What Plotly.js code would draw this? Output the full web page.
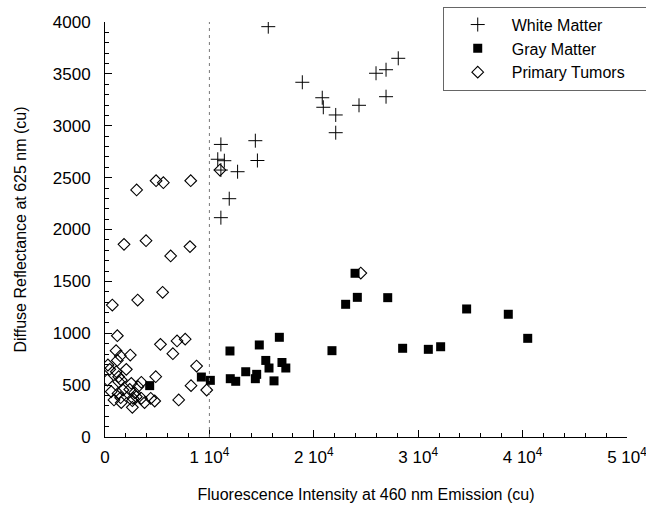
<!DOCTYPE html>
<html>
<head>
<meta charset="utf-8">
<script src="https://cdn.plot.ly/plotly-3.0.1.min.js"></script>
<style>html,body{margin:0;padding:0;background:#fff;}#chart{width:646px;height:506px;}</style>
</head>
<body>
<div id="chart"></div>
<script>
// White Matter
const whiteX = [15640,18900,20810,20910,22100,22100,24330,25960,26920,26920,28090,11100,14400,10800,11430,14600,11100,12700,11900,11100];
const whiteY = [3955,3419,3270,3178,3104,2933,3197,3506,3540,3280,3650,2820,2856,2677,2663,2665,2573,2557,2297,2114];
// Gray Matter
const grayX = [4280,9230,10090,11970,12000,12520,13480,14530,14400,14780,15400,15710,16190,16700,16950,17320,21740,23050,23950,24170,27080,28510,30970,32150,34640,38630,40490];
const grayY = [495,578,546,829,562,537,629,604,562,887,738,665,541,961,718,665,832,1279,1578,1346,1343,855,845,870,1234,1183,951];
// Primary Tumors
const tumorX = [3030,4890,5590,8210,11010,1820,3930,6290,8140,700,3130,5520,
  1180,5310,6900,7680,6500,1060,1470,1180,2420,8770,280,2040,1080,450,1310,1560,220,4860,1310,2520,3480,3160,2370,600,1250,1720,2840,3000,1500,3480,4380,4760,860,1560,2680,2620,3790,7060,2620,8240,9740,24500];
const tumorY = [2381,2470,2451,2470,2573,1857,1892,1745,1835,1272,1320,1395,
  976,893,926,943,803,832,781,738,790,684,694,652,629,652,581,549,549,581,533,517,527,485,459,437,420,453,427,388,379,373,373,347,357,331,373,350,331,357,286,495,453,1580];

const thresholdX = 10000;
const xTickVals = [0,10000,20000,30000,40000,50000];
const xTickText = ['0','1 10<sup>4</sup>','2 10<sup>4</sup>','3 10<sup>4</sup>','4 10<sup>4</sup>','5 10<sup>4</sup>'];
const yTickVals = [0,500,1000,1500,2000,2500,3000,3500,4000];

const font = 'Liberation Sans, Arial, sans-serif';
const pad = '\u00a0\u00a0\u00a0\u00a0\u00a0';

const traces = [
  {x: whiteX, y: whiteY, type: 'scatter', mode: 'markers', name: 'White Matter' + pad + '\u00a0\u00a0\u00a0',
   marker: {symbol: 'cross-thin-open', size: 10, color: '#000', line: {color: '#000', width: 1}}},
  {x: grayX, y: grayY, type: 'scatter', mode: 'markers', name: 'Gray Matter',
   marker: {symbol: 'square', size: 9, color: '#000', line: {color: '#000', width: 0}}},
  {x: tumorX, y: tumorY, type: 'scatter', mode: 'markers', name: 'Primary Tumors' + pad,
   marker: {symbol: 'diamond-open', size: 9, color: '#000', line: {color: '#000', width: 1.1}}}
];

const layout = {
  width: 646, height: 506,
  margin: {l: 105, r: 19, t: 22, b: 69, autoexpand: false},
  paper_bgcolor: '#fff', plot_bgcolor: '#fff',
  font: {family: font, color: '#000', size: 16},
  showlegend: true,
  legend: {x: 0.647, y: 1.037, xanchor: 'left', yanchor: 'top',
    bgcolor: '#fff', bordercolor: '#666', borderwidth: 1,
    font: {family: font, size: 16, color: '#000'}, itemwidth: 58, tracegroupgap: 0},
  xaxis: {range: [0, 50000], showline: true, linecolor: '#000', linewidth: 1,
    showgrid: false, zeroline: false, ticks: 'inside', ticklen: 7, tickcolor: '#000',
    tickmode: 'array', tickvals: xTickVals, ticktext: xTickText, ticklabeloverflow: 'allow',
    tickfont: {family: font, size: 17}, ticklabelstandoff: 5,
    minor: {dtick: 2000, ticks: 'inside', ticklen: 4, tickcolor: '#000', showgrid: false},
    title: {text: 'Fluorescence Intensity at 460 nm Emission (cu)', font: {family: font, size: 16}, standoff: 22}},
  yaxis: {range: [0, 4000], showline: true, linecolor: '#000', linewidth: 1,
    showgrid: false, zeroline: false, ticks: 'inside', ticklen: 7, tickcolor: '#000',
    tickmode: 'array', tickvals: yTickVals, ticklabeloverflow: 'allow',
    tickfont: {family: font, size: 17}, ticklabelstandoff: 10,
    minor: {dtick: 100, ticks: 'inside', ticklen: 4, tickcolor: '#000', showgrid: false},
    title: {text: 'Diffuse Reflectance at 625 nm (cu)', font: {family: font, size: 16}, standoff: 22}},
  shapes: [{type: 'line', xref: 'x', yref: 'y', x0: thresholdX, x1: thresholdX, y0: 0, y1: 4000,
    line: {color: '#777', width: 1, dash: '3px,4px'}}]
};

Plotly.newPlot('chart', traces, layout, {displayModeBar: false, staticPlot: true});
</script>
</body>
</html>
